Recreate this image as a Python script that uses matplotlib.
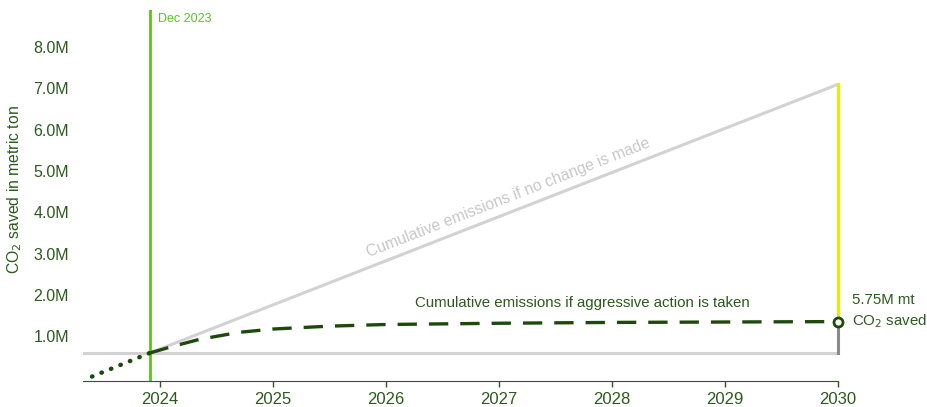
import matplotlib.pyplot as plt
import numpy as np

plt.rcParams['font.family'] = ['Liberation Sans', 'DejaVu Sans']

# data (values in millions of metric tons)
hist_years = [2023.40, 2023.91]
hist_vals = [0.03, 0.60]

noact_years = [2023.91, 2030]
noact_vals = [0.60, 7.10]

action_years = [2023.91, 2024.1, 2024.35, 2024.7, 2025, 2025.5, 2026, 2027, 2028, 2029, 2030]
action_vals = [0.60, 0.75, 0.93, 1.10, 1.18, 1.25, 1.29, 1.32, 1.34, 1.35, 1.36]

baseline = 0.59
dec_2023 = 2023.91
x_ticks = [2024, 2025, 2026, 2027, 2028, 2029, 2030]
y_ticks = [1, 2, 3, 4, 5, 6, 7, 8]

dark_green = '#2b5a1c'
line_green = '#1d4a0c'
bright_green = '#5cc41a'
yellow = '#dcf400'
light_gray = '#d2d2d2'

fig = plt.figure(figsize=(9.28, 4.07), dpi=100)
ax = fig.add_axes([0.0894, 0.0646, 0.8136, 0.911])

# baseline
ax.plot([2023.32, 2030], [baseline, baseline], color=light_gray, lw=2.2, zorder=1)
# no change line
ax.plot(noact_years, noact_vals, color=light_gray, lw=2.2, zorder=1)
# savings gap
ax.plot([2030, 2030], [action_vals[-1], noact_vals[-1]], color=yellow, lw=2.2, zorder=2,
        clip_on=False)
ax.plot([2030, 2030], [baseline, action_vals[-1]], color='#8a8a8a', lw=2.2, zorder=2,
        clip_on=False)
# history dotted
ax.plot(hist_years, hist_vals, color=line_green, lw=3.2, ls=(0, (0.1, 2.2)),
        dash_capstyle='round', zorder=3)
# aggressive action dashed
ax.plot(action_years, action_vals, color=line_green, lw=2.4, ls=(0, (5.8, 3.6)), zorder=3)
ax.plot([2030], [action_vals[-1]], marker='o', ms=6.5, mfc='white', mec=line_green,
        mew=2, zorder=4, clip_on=False)

# Dec 2023 marker
ax.axvline(dec_2023, color=bright_green, lw=2, zorder=2)
ax.text(dec_2023 + 0.07, 8.68, 'Dec 2023', color=bright_green, fontsize=9, va='center')

ax.text(2027.08, 4.36, 'Cumulative emissions if no change is made', color='#c8c8c8',
        fontsize=11.3, rotation=21.4, ha='center', va='center', rotation_mode='anchor')
ax.text(2026.26, 1.82, 'Cumulative emissions if aggressive action is taken', color=dark_green,
        fontsize=10.8, ha='left', va='center')
ax.text(2030.12, 1.88, '5.75M mt', color=dark_green, fontsize=10.8, ha='left', va='center')
ax.text(2030.12, 1.36, 'CO$_2$ saved', color=dark_green, fontsize=10.8, ha='left', va='center')

ax.set_xlim(2023.32, 2030)
ax.set_ylim(-0.07, 8.9)
ax.set_xticks(x_ticks)
ax.set_xticklabels([str(y) for y in x_ticks])
ax.set_yticks(y_ticks)
ax.set_yticklabels([f'{v:.1f}M' for v in y_ticks])
ax.tick_params(axis='x', colors=dark_green, labelsize=12, length=4, width=1, pad=4)
ax.tick_params(axis='y', colors=dark_green, labelsize=11.5, length=0, pad=10)
for s in ['top', 'right', 'left']:
    ax.spines[s].set_visible(False)
ax.spines['bottom'].set_color(dark_green)
ax.set_ylabel('CO$_2$ saved in metric ton', color=dark_green, fontsize=11.3)
ax.yaxis.set_label_coords(-0.078, 0.515)

fig.savefig('out.png', dpi=100)
